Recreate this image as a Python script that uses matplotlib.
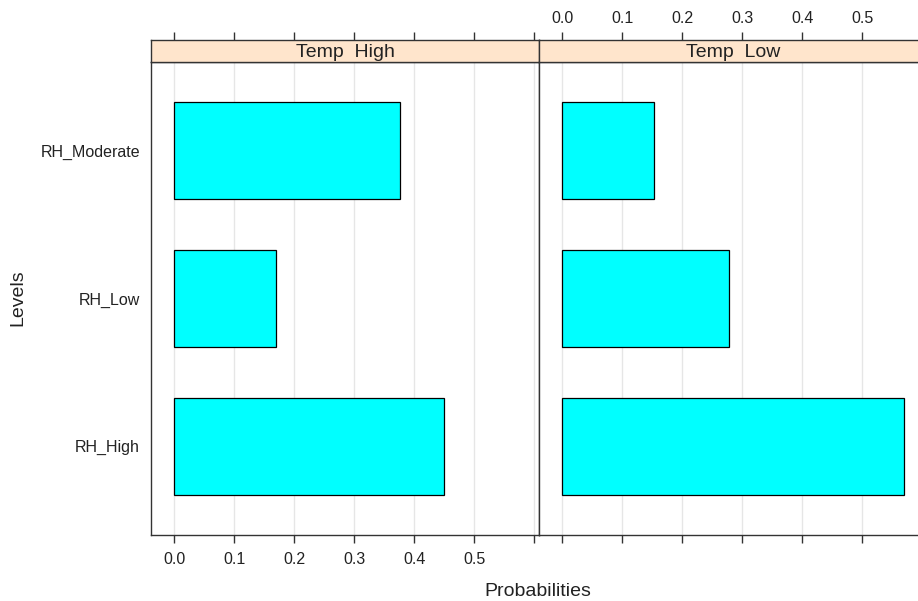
import matplotlib

matplotlib.use("Agg")
import matplotlib.pyplot as plt

plt.rcParams["font.family"] = ["Liberation Sans", "DejaVu Sans"]

levels = ["RH_High", "RH_Low", "RH_Moderate"]
panels = ["Temp  High", "Temp  Low"]
probs_high = [0.449, 0.169, 0.376]
probs_low = [0.570, 0.278, 0.152]
ticks = [0.0, 0.1, 0.2, 0.3, 0.4, 0.5, 0.6]
tick_labels = ["0.0", "0.1", "0.2", "0.3", "0.4", "0.5", ""]

W, H = 918, 601
fig = plt.figure(figsize=(W / 100, H / 100), dpi=100)

xlim = (-0.039, 0.6075)
panel_w = 388
strip_h = 22
top_px, bottom_px = 62, 535
edge = "#333333"
txt = "#222222"

for i, (title, vals) in enumerate(zip(panels, [probs_high, probs_low])):
    x0 = 151 + i * panel_w
    ax = fig.add_axes([x0 / W, 1 - bottom_px / H, panel_w / W, (bottom_px - top_px) / H])
    ypos = range(1, len(levels) + 1)
    ax.barh(list(ypos), vals, height=0.66, color="#00FFFF", edgecolor="black", linewidth=0.9, zorder=3)
    ax.set_xlim(*xlim)
    ax.set_ylim(0.4, 3.6)
    ax.set_xticks(ticks)
    ax.grid(axis="x", color="#E6E6E6", linewidth=1, zorder=0)
    ax.tick_params(axis="x", direction="out", length=6, width=1, color=edge, pad=6,
                   labelsize=11.5, labelcolor=txt)
    if i == 0:
        ax.set_xticklabels(tick_labels)
        ax.set_yticks(list(ypos))
        ax.set_yticklabels(levels)
        ax.tick_params(axis="y", length=0, pad=8, labelsize=11.5, labelcolor=txt)
    else:
        ax.set_xticklabels([])
        ax.set_yticks([])
    for s in ax.spines.values():
        s.set_color(edge)
        s.set_linewidth(1)

    # strip on top
    sx = fig.add_axes([x0 / W, 1 - top_px / H, panel_w / W, strip_h / H])
    sx.set_facecolor("#FFE5CC")
    sx.set_xlim(*xlim)
    sx.set_ylim(0, 1)
    sx.set_yticks([])
    sx.xaxis.set_ticks_position("top")
    sx.set_xticks(ticks)
    sx.tick_params(axis="x", direction="out", length=6, width=1, color=edge, pad=4,
                   labelsize=11.5, labelcolor=txt)
    if i == 1:
        sx.set_xticklabels(tick_labels)
    else:
        sx.set_xticklabels([])
    sx.text(0.5, 0.45, title, transform=sx.transAxes, ha="center", va="center", fontsize=14, color=txt)
    for s in sx.spines.values():
        s.set_color(edge)
        s.set_linewidth(1)

fig.text(538 / W, 1 - 592 / H, "Probabilities", ha="center", va="center", fontsize=14, color=txt)
fig.text(18 / W, 1 - 298 / H, "Levels", ha="center", va="center", rotation=90, fontsize=14, color=txt)

fig.savefig("out.png", dpi=100)
